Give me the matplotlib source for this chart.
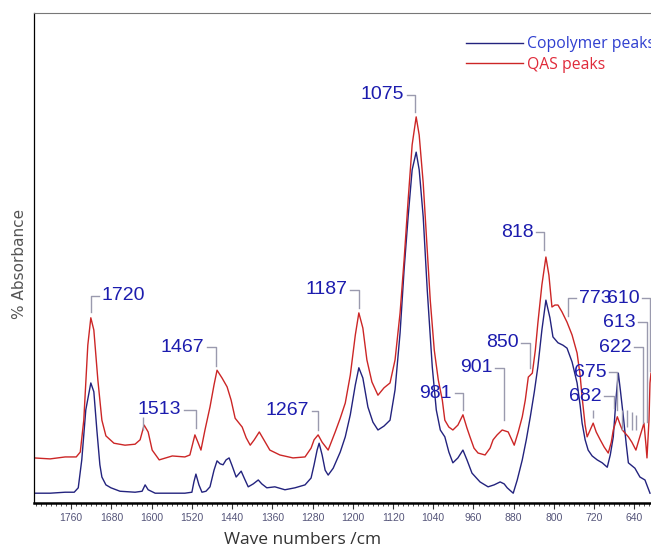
import matplotlib
matplotlib.use("Agg")

import matplotlib.pyplot as plt
from matplotlib.ticker import MultipleLocator, NullLocator

# ── Data: spectra (wave number, % absorbance) ───────────────────────────────

qas_wn = [1834, 1802, 1772, 1750, 1742, 1735, 1727, 1721, 1715, 1707, 1699, 1691,
          1675, 1653, 1633, 1623, 1615, 1607, 1599, 1585, 1559, 1534, 1524, 1514,
          1508, 1502, 1494, 1484, 1476, 1470, 1460, 1450, 1442, 1434, 1420, 1412,
          1404, 1396, 1386, 1377, 1365, 1345, 1319, 1295, 1283, 1277, 1269, 1261,
          1249, 1235, 1225, 1215, 1205, 1195, 1188, 1180, 1172, 1162, 1150, 1138,
          1126, 1116, 1106, 1098, 1090, 1082, 1074, 1068, 1060, 1052, 1046, 1038,
          1030, 1022, 1017, 1009, 1001, 991, 981, 973, 967, 959, 951, 937,
          927, 921, 913, 903, 891, 879, 871, 863, 857, 851, 843, 837,
          832, 824, 816, 810, 804, 798, 792, 784, 774, 764, 754, 748,
          744, 738, 734, 728, 722, 716, 708, 700, 692, 686, 682, 674,
          668, 664, 652, 645, 637, 631, 625, 621, 617, 615, 611, 609, 607]
qas_abs = [9.2, 9.0, 9.4, 9.4, 10.4, 16.9, 32.2, 37.8, 35.3, 25.1, 16.9, 13.7,
           12.2, 11.8, 12.0, 12.9, 15.9, 14.5, 10.8, 8.8, 9.6, 9.4, 9.8, 13.9,
           12.4, 10.8, 14.9, 19.6, 24.1, 27.1, 25.5, 23.7, 21.0, 17.3, 15.5, 13.3,
           11.8, 12.9, 14.5, 12.9, 10.8, 9.8, 9.2, 9.4, 11.2, 12.9, 13.9, 12.4,
           10.8, 14.5, 17.3, 20.4, 26.1, 34.3, 38.8, 35.7, 29.2, 24.7, 22.0, 23.5,
           24.5, 29.2, 38.8, 49.6, 61.8, 73.1, 78.8, 75.1, 65.3, 51.6, 41.4, 31.2,
           25.1, 21.0, 16.9, 15.5, 14.9, 15.9, 18.0, 15.3, 13.5, 11.2, 10.2, 9.8,
           11.2, 12.9, 13.9, 14.9, 14.5, 11.8, 14.5, 17.6, 21.0, 25.7, 26.5, 31.2,
           36.7, 44.5, 50.2, 46.5, 40.0, 40.4, 40.4, 39.0, 36.9, 34.3, 30.6, 26.1,
           21.6, 15.9, 13.5, 14.9, 16.3, 14.5, 12.9, 11.4, 10.2, 12.4, 14.9, 17.6,
           15.9, 14.9, 13.5, 12.4, 10.8, 12.9, 14.9, 16.3, 11.8, 9.2, 16.9, 24.5, 26.5]

copo_wn = [1834, 1802, 1772, 1754, 1746, 1739, 1731, 1721, 1715, 1709, 1703, 1699,
           1691, 1681, 1663, 1633, 1619, 1613, 1607, 1593, 1563, 1534, 1520, 1516,
           1512, 1506, 1500, 1492, 1484, 1476, 1470, 1464, 1458, 1452, 1446, 1440,
           1432, 1422, 1416, 1408, 1398, 1388, 1381, 1371, 1355, 1335, 1315, 1295,
           1283, 1277, 1271, 1267, 1261, 1255, 1249, 1239, 1225, 1215, 1205, 1195,
           1188, 1180, 1170, 1160, 1150, 1138, 1126, 1116, 1106, 1098, 1090, 1082,
           1074, 1068, 1060, 1052, 1042, 1034, 1026, 1017, 1009, 1001, 991, 981,
           973, 963, 947, 931, 919, 907, 899, 893, 881, 873, 863, 855,
           847, 839, 832, 824, 816, 808, 802, 792, 782, 774, 764, 754,
           748, 744, 738, 732, 724, 714, 704, 694, 688, 682, 676, 672,
           668, 662, 656, 652, 645, 639, 629, 619, 613, 609]
copo_abs = [2.0, 2.0, 2.2, 2.2, 3.1, 8.8, 19.0, 24.5, 22.7, 14.9, 7.8, 5.3,
            3.7, 3.1, 2.4, 2.2, 2.4, 3.7, 2.7, 2.0, 2.0, 2.0, 2.2, 4.3,
            5.9, 3.7, 2.2, 2.4, 3.3, 6.7, 8.6, 8.0, 7.8, 8.8, 9.2, 7.6,
            5.3, 6.5, 5.1, 3.3, 3.9, 4.7, 3.9, 3.1, 3.3, 2.7, 3.1, 3.7,
            5.1, 7.8, 10.8, 12.2, 9.8, 6.7, 5.7, 7.1, 10.4, 13.5, 18.0, 24.1,
            27.6, 25.5, 19.6, 16.5, 14.9, 15.7, 16.9, 23.1, 34.7, 47.6, 58.4, 68.0,
            71.6, 68.0, 58.4, 43.5, 27.8, 19.0, 14.9, 13.5, 10.4, 8.2, 9.2, 10.8,
            8.8, 6.1, 4.3, 3.3, 3.7, 4.3, 3.9, 3.1, 2.0, 4.7, 8.8, 12.9,
            17.6, 22.7, 27.8, 35.3, 41.4, 37.8, 33.9, 32.7, 32.2, 31.6, 28.8, 24.5,
            20.0, 16.3, 12.9, 10.8, 9.6, 8.8, 8.2, 7.3, 9.8, 13.5, 22.0, 26.5,
            23.1, 17.6, 11.8, 8.2, 7.6, 7.1, 5.3, 4.7, 3.1, 2.0]

# Peak labels
peak_labels = ["1720", "1513", "1467", "1267", "1187", "1075", "981", "901",
               "850", "818", "773", "610", "613", "622", "675", "682"]
peak_wn     = [1721, 1512, 1472, 1269, 1188, 1076, 981, 899,
               847, 820, 772, 609, 615, 623, 674, 680]

# ── Layout of the labels: text level, leader tip, start of horizontal arm ───
label_y   = [42.3, 19.0, 31.8, 18.8, 43.5, 83.3, 22.4, 27.6,
             32.7, 55.3, 41.8, 41.8, 36.9, 31.8, 26.7, 21.8]
tip_y     = [39.0, 15.3, 28.0, 14.9, 39.8, 79.8, 19.0, 16.9,
             27.6, 51.6, 38.2, 26.9, 16.5, 16.3, 19.0, 19.4]
arm_start = [1705, 1536, 1490, 1281, 1205, 1092, 997, 917,
             865, 835, 756, 625, 632, 640, 690, 700]

# loose leader stubs (label text hidden behind others in the original)
stub_wn  = [1617, 722, 664, 654, 644, 636]
stub_top = [17.6, 19.0, 19.0, 19.0, 18.5, 18.0]
stub_bot = [14.9, 17.3, 15.0, 15.5, 15.0, 15.0]

LABEL_BLUE = "#1c1cae"
LEADER     = "#9a9aae"

plt.rcParams.update({
    "font.family": "Liberation Sans",
    "figure.dpi":  100,
})

fig = plt.figure(figsize=(6.51, 5.5), dpi=100)
ax = fig.add_axes([34 / 651, 47 / 550, 617 / 651, 490 / 550])

ax.plot(copo_wn, copo_abs, color="#23237e", linewidth=1.0, label="Copolymer peaks")
ax.plot(qas_wn, qas_abs, color="#cc2626", linewidth=1.0, label="QAS peaks")

# ── peak labels with bracket leaders ───────────────────────────────────────
for lab, px, ly, ty, a0 in zip(peak_labels, peak_wn, label_y, tip_y, arm_start):
    ax.plot([a0, px, px], [ly, ly, ty], color=LEADER, linewidth=1.0)
    if a0 > px:   # text on the left of the bracket
        ax.annotate(lab, (a0, ly), xytext=(-2, 0), textcoords="offset points",
                    ha="right", va="center", fontsize=14, color=LABEL_BLUE)
    else:
        ax.annotate(lab, (a0, ly), xytext=(2, 0), textcoords="offset points",
                    ha="left", va="center", fontsize=14, color=LABEL_BLUE)

ax.vlines(stub_wn, stub_bot, stub_top, color=LEADER, linewidth=1.0)

ax.set_xlim(1834, 607)
ax.set_ylim(0, 100)

ax.xaxis.set_major_locator(MultipleLocator(80))
ax.xaxis.set_minor_locator(MultipleLocator(10))
ax.yaxis.set_major_locator(NullLocator())
ax.tick_params(axis="x", which="major", length=4, width=0.8, color="#333333",
               labelsize=7.5, labelcolor="#55557a", pad=3)
ax.tick_params(axis="x", which="minor", length=2.5, width=0.6, color="#333333")

ax.spines["right"].set_visible(False)
ax.spines["top"].set_color("#777777")
ax.spines["top"].set_linewidth(0.8)
ax.spines["left"].set_linewidth(0.9)
ax.spines["bottom"].set_linewidth(1.8)

ax.set_xlabel("Wave numbers /cm", fontsize=12.5, color="#333333", family="Open Sans")
ax.xaxis.set_label_coords(269 / 617, -0.06)
ax.set_ylabel("% Absorbance", fontsize=11, color="#555555", family="DejaVu Sans")
ax.yaxis.set_label_coords(-0.012, 0.488)

ax.legend(loc="upper left", bbox_to_anchor=(432 / 617, 0.953), frameon=False,
          handlelength=3.6, handletextpad=0.3, labelspacing=0.3,
          borderpad=0, borderaxespad=0, labelcolor=["#2f3fd0", "#e02a3a"],
          prop={"family": "Open Sans", "size": 11.3})

plt.savefig("out.png", dpi=100)
plt.close()
